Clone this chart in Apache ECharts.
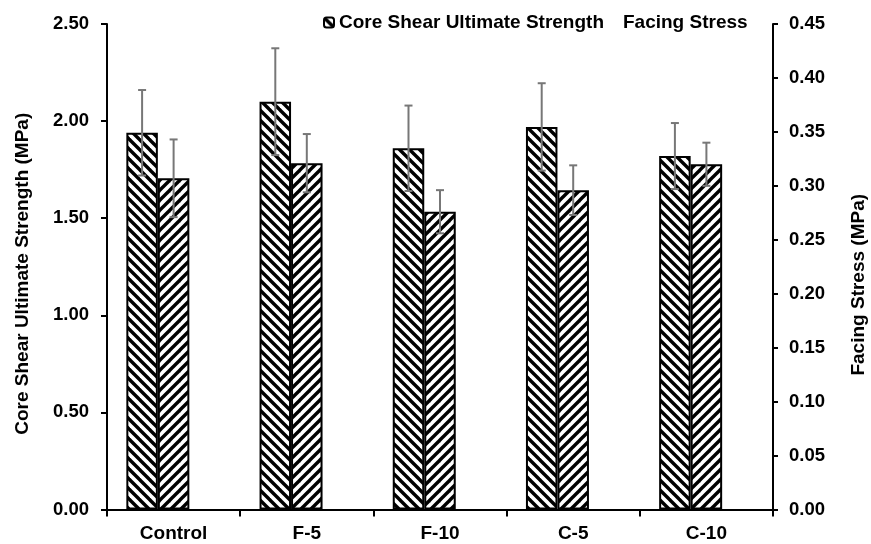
<!DOCTYPE html>
<html>
<head>
<meta charset="utf-8">
<script src="https://cdn.jsdelivr.net/npm/echarts@6/dist/echarts.min.js"></script>
<style>
  html, body { margin: 0; padding: 0; background: #fff; }
  #chart { width: 871px; height: 544px; }
</style>
</head>
<body>
<div id="chart"></div>
<script>
const categories = ["Control", "F-5", "F-10", "C-5", "C-10"]
const strength = [1.94, 2.10, 1.86, 1.97, 1.82]
const strengthErr = [0.22, 0.275, 0.22, 0.225, 0.17]
const stress = [0.307, 0.321, 0.276, 0.296, 0.320]
const stressErr = [0.036, 0.027, 0.02, 0.023, 0.02]
const strengthTicks = { min: 0, max: 2.5, interval: 0.5 }
const stressTicks = { min: 0, max: 0.45, interval: 0.05 }

const FONT = "Liberation Sans, Arial, sans-serif"
const BAR_WIDTH = 31.5
const ERR_COLOR = "#777777"

// diagonal hatch fill, "back" = \\\ and "fwd" = ///
function hatch(dir) {
  const c = document.createElement("canvas")
  c.width = 10
  c.height = 10
  const ctx = c.getContext("2d")
  ctx.fillStyle = "#fff"
  ctx.fillRect(0, 0, 10, 10)
  ctx.strokeStyle = "#000"
  ctx.lineWidth = 3.4
  ;[-10, 0, 10].forEach((o) => {
    ctx.beginPath()
    if (dir === "back") {
      ctx.moveTo(o - 2, -2)
      ctx.lineTo(o + 12, 12)
    } else {
      ctx.moveTo(o - 2, 12)
      ctx.lineTo(o + 12, -2)
    }
    ctx.stroke()
  })
  return c
}

function errorSeries(means, errs, offset, yAxisIndex) {
  return {
    type: "custom",
    yAxisIndex,
    z: 5,
    silent: true,
    encode: { x: 0, y: [1, 2] },
    data: means.map((m, i) => [i, m + errs[i], m - errs[i]]),
    renderItem: (params, api) => {
      const i = api.value(0)
      const hi = api.coord([i, api.value(1)])
      const lo = api.coord([i, api.value(2)])
      const x = hi[0] + offset
      const style = { stroke: ERR_COLOR, lineWidth: 2 }
      return {
        type: "group",
        children: [
          { type: "line", shape: { x1: x, y1: hi[1], x2: x, y2: lo[1] }, style },
          { type: "line", shape: { x1: x - 4, y1: hi[1], x2: x + 4, y2: hi[1] }, style },
          { type: "line", shape: { x1: x - 4, y1: lo[1], x2: x + 4, y2: lo[1] }, style }
        ]
      }
    }
  }
}

const chart = echarts.init(document.getElementById("chart"), null, { renderer: "canvas" })

const labelStyle = { color: "#000", fontFamily: FONT, fontWeight: "bold", fontSize: 19 }
const axisLine = { show: true, lineStyle: { color: "#000", width: 2 } }

chart.setOption({
  animation: false,
  backgroundColor: "#fff",
  textStyle: { fontFamily: FONT },
  grid: { left: 107, right: 98, top: 24, bottom: 34.5, outerBoundsMode: "none", containLabel: false },
  legend: {
    left: 318,
    top: 8,
    itemWidth: 10,
    itemHeight: 10,
    itemGap: 3,
    textStyle: { ...labelStyle },
    data: [
      { name: "Core Shear Ultimate Strength" },
      { name: "Facing Stress", itemStyle: { opacity: 0 } }
    ]
  },
  xAxis: {
    type: "category",
    data: categories,
    axisLine,
    axisTick: { show: true, length: 7, lineStyle: { color: "#000", width: 2 } },
    axisLabel: { ...labelStyle, margin: 15 },
    splitLine: { show: false }
  },
  yAxis: [
    {
      type: "value",
      ...strengthTicks,
      name: "Core Shear Ultimate Strength (MPa)",
      nameLocation: "middle",
      nameGap: 75,
      nameTextStyle: { ...labelStyle, padding: [0, 14, 0, 0] },
      axisLine,
      axisTick: { show: true, length: 6, lineStyle: { color: "#000", width: 2 } },
      axisLabel: { ...labelStyle, fontSize: 18.5, margin: 18, formatter: (v) => v.toFixed(2) },
      splitLine: { show: false }
    },
    {
      type: "value",
      position: "right",
      ...stressTicks,
      name: "Facing Stress (MPa)",
      nameLocation: "middle",
      nameGap: 76,
      nameTextStyle: { ...labelStyle, padding: [0, 36, 0, 0] },
      axisLine,
      axisTick: { show: true, length: 5, lineStyle: { color: "#000", width: 2 } },
      axisLabel: { ...labelStyle, fontSize: 18.5, margin: 16, formatter: (v) => v.toFixed(2) },
      splitLine: { show: false }
    }
  ],
  series: [
    {
      name: "Core Shear Ultimate Strength",
      type: "bar",
      yAxisIndex: 0,
      barWidth: BAR_WIDTH,
      barGap: "0%",
      data: strength,
      itemStyle: { color: { image: hatch("back"), repeat: "repeat" }, borderColor: "#000", borderWidth: 2 }
    },
    {
      name: "Facing Stress",
      type: "bar",
      yAxisIndex: 1,
      barWidth: BAR_WIDTH,
      barGap: "0%",
      data: stress,
      itemStyle: { color: { image: hatch("fwd"), repeat: "repeat" }, borderColor: "#000", borderWidth: 2 }
    },
    {
      // empty slot so the pair sits left of the category centre
      name: "spacer",
      type: "bar",
      yAxisIndex: 0,
      barWidth: BAR_WIDTH,
      barGap: "0%",
      silent: true,
      data: categories.map(() => null)
    },
    errorSeries(strength, strengthErr, -BAR_WIDTH, 0),
    errorSeries(stress, stressErr, 0, 1)
  ]
})
</script>
</body>
</html>
